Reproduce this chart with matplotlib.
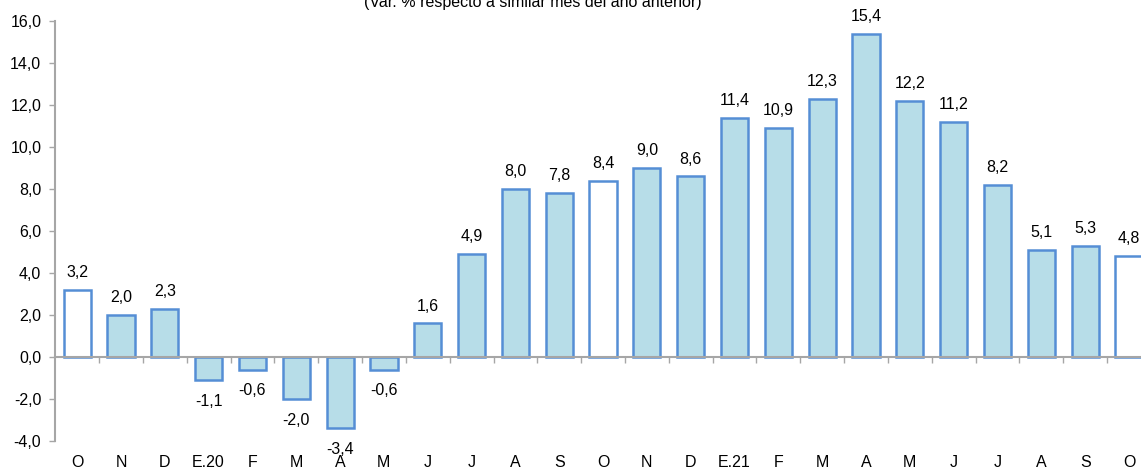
import matplotlib
matplotlib.use('Agg')
import matplotlib.pyplot as plt
import matplotlib.transforms as mtransforms
from matplotlib.ticker import FixedLocator

plt.rcParams['font.family'] = ['Liberation Sans', 'DejaVu Sans']

# --- Data ---
months = ['O', 'N', 'D', 'E.20', 'F', 'M', 'A', 'M', 'J', 'J', 'A', 'S',
          'O', 'N', 'D', 'E.21', 'F', 'M', 'A', 'M', 'J', 'J', 'A', 'S', 'O']
values = [3.2, 2.0, 2.3, -1.1, -0.6, -2.0, -3.4, -0.6, 1.6, 4.9, 8.0, 7.8,
          8.4, 9.0, 8.6, 11.4, 10.9, 12.3, 15.4, 12.2, 11.2, 8.2, 5.1, 5.3, 4.8]
highlight = [0, 12, 24]  # October bars drawn in white
yticks = [-4, -2, 0, 2, 4, 6, 8, 10, 12, 14, 16]
subtitle = '(Var. % respecto a similar mes del año anterior)'

FILL = '#B7DDE8'
EDGE = '#558ED5'
AXIS = '#A6A6A6'
FS = 11.5


def fmt(v):
    return f'{v:.1f}'.replace('.', ',')


fig = plt.figure(figsize=(11.41, 4.72), dpi=100)
# axes runs past the right edge, like the original, so the last bar is cut
ax = fig.add_axes([0.0484, 0.0657, 0.9603, 0.8898])

x = list(range(len(values)))
colors = ['white' if i in highlight else FILL for i in x]
ax.bar(x, values, width=0.62, color=colors, edgecolor=EDGE, linewidth=1.8, zorder=3)

ax.set_xlim(-0.5, len(values) - 0.5)
ax.set_ylim(-4, 16)

# value labels
for i, v in zip(x, values):
    if v >= 0:
        ax.annotate(fmt(v), (i, v), xytext=(0, 7), textcoords='offset points',
                    ha='center', va='bottom', fontsize=FS, color='#000000')
    else:
        ax.annotate(fmt(v), (i, v), xytext=(0, -10), textcoords='offset points',
                    ha='center', va='top', fontsize=FS, color='#000000')

# axes styling
for side in ['top', 'right']:
    ax.spines[side].set_visible(False)
ax.spines['left'].set_color(AXIS)
ax.spines['left'].set_linewidth(1.5)
ax.spines['bottom'].set_position(('data', 0))
ax.spines['bottom'].set_color(AXIS)
ax.spines['bottom'].set_linewidth(1.5)
ax.spines['bottom'].set_zorder(4)

ax.set_yticks(yticks)
ax.set_yticklabels([fmt(t) for t in yticks], fontsize=FS)
ax.tick_params(axis='y', length=4, width=1, color=AXIS, pad=6)

ax.xaxis.set_major_locator(FixedLocator([i + 0.5 for i in x[:-1]]))
ax.set_xticklabels([])
ax.tick_params(axis='x', length=4, width=1, color=AXIS, direction='out')

# month labels along the bottom of the plot area
trans = mtransforms.blended_transform_factory(ax.transData, ax.transAxes)
for i, m in zip(x, months):
    ax.text(i, -0.052, m, transform=trans, ha='center', va='center',
            fontsize=FS, color='#000000')

fig.text(0.467, 0.994, subtitle, ha='center', va='center', fontsize=FS)

fig.savefig('out.png', dpi=100)
